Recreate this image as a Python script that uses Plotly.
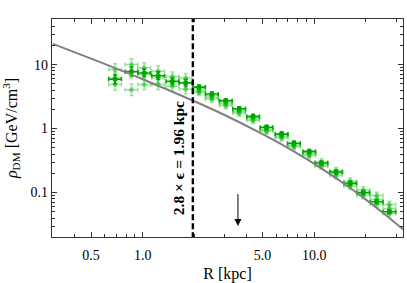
import math
import plotly.graph_objects as go

# ---------------- data ----------------
R_bins = [0.69, 0.86, 1.02, 1.23, 1.49, 1.78, 2.13, 2.53, 3.05, 3.65, 4.40,
          5.27, 6.45, 7.61, 9.35, 11.0, 13.4, 16.2, 19.3, 23.1, 27.4]
rho_main = [5.9, 7.8, 7.4, 6.7, 5.5, 5.2, 4.45, 3.47, 2.73, 2.04, 1.55,
            1.05, 0.82, 0.59, 0.44, 0.29, 0.21, 0.14, 0.10, 0.072, 0.05]
rho_main_err_dex = [0.07, 0.07, 0.06, 0.06, 0.05, 0.05, 0.03, 0.03, 0.03, 0.03, 0.03,
                    0.03, 0.03, 0.03, 0.03, 0.03, 0.03, 0.03, 0.03, 0.03, 0.03]
rho_alt1 = [8.4, 10.0, 8.9, 7.9, 6.5, 6.2, 4.2, 3.3, 2.6, 1.95, 1.5,
            1.0, 0.80, 0.58, 0.42, 0.30, 0.22, 0.15, 0.11, 0.090, 0.065]
rho_alt2 = [6.2, 7.6, 7.0, 6.2, 5.4, 5.1, 3.9, 3.1, 2.45, 1.85, 1.42,
            0.95, 0.76, 0.55, 0.40, 0.27, 0.20, 0.135, 0.097, 0.078, 0.056]
rho_alt3 = [4.9, 4.06, 4.9, 4.9, 4.6, 4.1, 3.7, 2.9, 2.3, 1.75, 1.35,
            0.92, 0.72, 0.52, 0.38, 0.26, 0.185, 0.125, 0.09, 0.066, 0.047]
rho_alt_err_dex = [0.09, 0.09, 0.08, 0.08, 0.07, 0.07, 0.05, 0.05, 0.05, 0.05, 0.05,
                   0.05, 0.05, 0.05, 0.05, 0.05, 0.05, 0.05, 0.05, 0.05, 0.05]
BIN_HALF_DEX = 0.037

model_R = [0.3, 0.5, 1.0, 2.0, 3.0, 5.0, 6.3, 10.0, 15.0, 20.0, 25.3, 33.0]
model_rho = [21.1, 12.4, 5.9, 2.67, 1.63, 0.82, 0.585, 0.281, 0.136, 0.0776, 0.0475, 0.0265]

softening_R = 1.96
softening_label = "<b>2.8 × ϵ = 1.96 kpc</b>"
label_R = 1.62
label_rho = 0.34
arrow_R = 3.59
arrow_rho_from = 0.1
arrow_rho_to = 0.03

x_tickvals = [0.5, 1.0, 5.0, 10.0]
x_ticktext = ["0.5", "1.0", "5.0", "10.0"]
y_tickvals = [0.1, 1, 10]
y_ticktext = ["0.1", "1", "10"]

X_RANGE = [0.296, 32.9]
Y_RANGE = [0.0202, 51.6]

FONT = "Liberation Serif, Times New Roman, serif"
DARK = "rgb(0,165,0)"
LIGHT = "rgba(0,190,0,0.42)"


def xerr(xs):
    plus = [x * (10 ** BIN_HALF_DEX - 1) for x in xs]
    minus = [x * (1 - 10 ** -BIN_HALF_DEX) for x in xs]
    return plus, minus


def yerr(ys, dex):
    plus = [y * (10 ** d - 1) for y, d in zip(ys, dex)]
    minus = [y * (1 - 10 ** -d) for y, d in zip(ys, dex)]
    return plus, minus


fig = go.Figure()

xp, xm = xerr(R_bins)
for series in (rho_alt1, rho_alt2, rho_alt3):
    yp, ym = yerr(series, rho_alt_err_dex)
    fig.add_trace(go.Scatter(
        x=R_bins, y=series, mode="markers",
        marker=dict(color=LIGHT, size=5),
        error_x=dict(type="data", array=xp, arrayminus=xm, color=LIGHT, thickness=1.5, width=2),
        error_y=dict(type="data", array=yp, arrayminus=ym, color=LIGHT, thickness=1.5, width=2),
        showlegend=False, hoverinfo="skip"))

yp, ym = yerr(rho_main, rho_main_err_dex)
fig.add_trace(go.Scatter(
    x=R_bins, y=rho_main, mode="markers",
    marker=dict(color=DARK, size=5),
    error_x=dict(type="data", array=xp, arrayminus=xm, color=DARK, thickness=1.6, width=2),
    error_y=dict(type="data", array=yp, arrayminus=ym, color=DARK, thickness=1.6, width=2),
    showlegend=False))

fig.add_trace(go.Scatter(
    x=model_R, y=model_rho, mode="lines",
    line=dict(color="rgb(128,128,128)", width=2, shape="spline"),
    showlegend=False))

fig.add_trace(go.Scatter(
    x=[softening_R, softening_R], y=[Y_RANGE[0] / 2, Y_RANGE[1] * 2], mode="lines",
    line=dict(color="black", width=2.4, dash="6px,3px"),
    showlegend=False))

fig.add_annotation(
    x=math.log10(label_R), y=math.log10(label_rho), xref="x", yref="y",
    text=softening_label, textangle=-90, showarrow=False,
    font=dict(family=FONT, size=15.5, color="black"),
    xanchor="center", yanchor="middle")

fig.add_annotation(
    x=math.log10(arrow_R), y=math.log10(arrow_rho_to), xref="x", yref="y",
    ax=math.log10(arrow_R), ay=math.log10(arrow_rho_from), axref="x", ayref="y",
    showarrow=True, arrowhead=2, arrowsize=1.4, arrowwidth=1, arrowcolor="black", text="")

minor_x = [0.3, 0.4, 0.6, 0.7, 0.8, 0.9, 2, 3, 4, 6, 7, 8, 9, 20, 30]
minor_y = [0.03, 0.04, 0.05, 0.06, 0.07, 0.08, 0.09, 0.2, 0.3, 0.4, 0.5, 0.6, 0.7, 0.8, 0.9,
           2, 3, 4, 5, 6, 7, 8, 9, 20, 30, 40, 50]

axis_common = dict(
    type="log", showgrid=False, zeroline=False,
    showline=True, linecolor="#333", linewidth=1.2, mirror="ticks",
    ticks="inside", ticklen=5, tickwidth=1, tickcolor="#333",
    tickfont=dict(family=FONT, size=14, color="black"),
)

fig.update_xaxes(
    **axis_common,
    range=[math.log10(X_RANGE[0]), math.log10(X_RANGE[1])],
    tickmode="array", tickvals=x_tickvals, ticktext=x_ticktext,
    ticklabelstandoff=5,
    minor=dict(ticks="inside", ticklen=3, tickcolor="#333", tickvals=minor_x),
    title=dict(text="R [kpc]", font=dict(family=FONT, size=16, color="black"), standoff=9),
)
fig.update_yaxes(
    **axis_common,
    range=[math.log10(Y_RANGE[0]), math.log10(Y_RANGE[1])],
    tickmode="array", tickvals=y_tickvals, ticktext=y_ticktext,
    minor=dict(ticks="inside", ticklen=3, tickcolor="#333", tickvals=minor_y),
    title=dict(text="<i>ρ</i><sub>DM</sub> [GeV/cm<sup>3</sup>]",
               font=dict(family=FONT, size=16, color="black"), standoff=10),
)

fig.update_layout(
    width=407, height=283,
    margin=dict(l=52, r=4, t=19, b=46, autoexpand=False),
    paper_bgcolor="white", plot_bgcolor="white",
    font=dict(family=FONT),
)

fig.write_html("out.html",
               config={"displayModeBar": False},
               post_script="document.body.style.margin='0';document.body.style.overflow='hidden';")
